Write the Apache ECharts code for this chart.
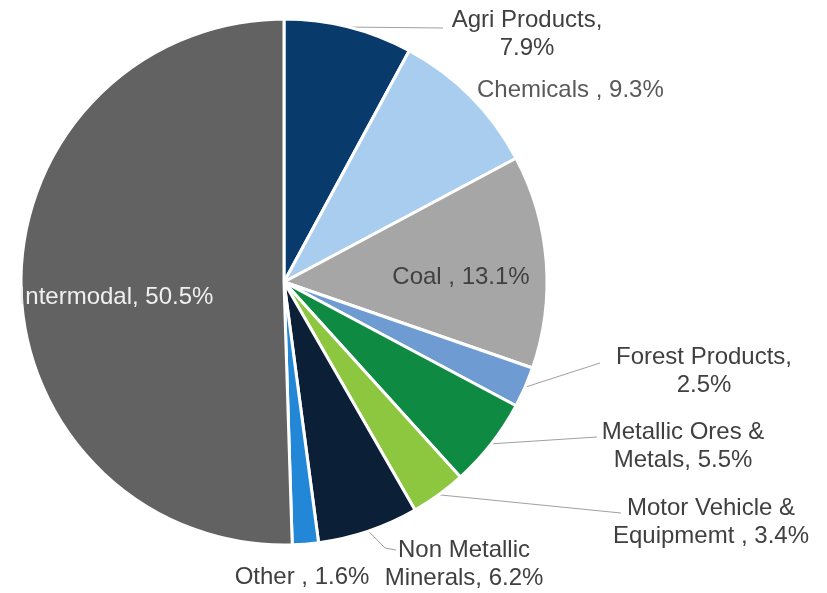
<!DOCTYPE html>
<html>
<head>
<meta charset="utf-8">
<script src="https://cdn.jsdelivr.net/npm/echarts@6/dist/echarts.min.js"></script>
<style>
  html, body { margin: 0; padding: 0; background: #ffffff; }
  #chart { width: 827px; height: 593px; }
</style>
</head>
<body>
<div id="chart"></div>
<script>
// Carload share by commodity group (%)
const categories = [
  'Agri Products', 'Chemicals', 'Coal', 'Forest Products',
  'Metallic Ores & Metals', 'Motor Vehicle & Equipmemt',
  'Non Metallic Minerals', 'Other', 'Intermodal'
];
const shares = [7.9, 9.3, 13.1, 2.5, 5.5, 3.4, 6.2, 1.6, 50.5];
const labelPrefixes = [
  'Agri Products,\n', 'Chemicals , ', 'Coal , ', 'Forest Products,\n',
  'Metallic Ores &\nMetals, ', 'Motor Vehicle &\nEquipmemt , ',
  'Non Metallic\nMinerals, ', 'Other , ', 'Intermodal, '
];
const sliceColors = [
  '#083a6c', '#a9cdef', '#a6a6a6', '#6f9bd3', '#0f8a43',
  '#8dc63f', '#0b1f36', '#2287d6', '#626262'
];

// Where each label sits (text block centre) and how its leader line bends.
const labelSpots = [
  { x: 527, y: 34, line: [[443, 28]] },
  { x: 477, y: 90, align: 'left' },
  { x: 461, y: 277, inside: true, color: '#404040' },
  { x: 704, y: 371, line: [[600, 363]] },
  { x: 683, y: 446, line: [[597, 437]] },
  { x: 711, y: 522, line: [[621, 513]] },
  { x: 464, y: 564, line: [[385, 548], [396, 550]] },
  { x: 302, y: 577 },
  { x: 116, y: 297, inside: true, color: '#f0f0f0' }
];

const chart = echarts.init(document.getElementById('chart'), null, { renderer: 'canvas' });

const seriesData = categories.map((name, i) => {
  const spot = labelSpots[i];
  return {
    name: name,
    value: shares[i],
    itemStyle: { color: sliceColors[i] },
    label: {
      position: spot.inside ? 'inside' : 'outside',
      color: spot.color || (i === 1 ? '#595959' : '#404040')
    },
    labelLine: { show: !!spot.line }
  };
});

chart.setOption({
  backgroundColor: '#ffffff',
  animation: false,
  series: [{
    type: 'pie',
    center: [284, 282],
    radius: 263,
    startAngle: 90,
    clockwise: true,
    avoidLabelOverlap: false,
    itemStyle: { borderColor: '#ffffff', borderWidth: 3 },
    label: {
      show: true,
      fontFamily: 'Liberation Sans, Arial, sans-serif',
      fontSize: 24,
      lineHeight: 28,
      align: 'center',
      formatter: p => labelPrefixes[p.dataIndex] + p.value.toFixed(1) + '%'
    },
    labelLine: {
      show: true,
      length: 20,
      length2: 20,
      smooth: false,
      lineStyle: { color: '#a0a0a0', width: 1 }
    },
    labelLayout: function (params) {
      const spot = labelSpots[params.dataIndex];
      const out = {
        x: spot.x,
        y: spot.y,
        align: spot.align || 'center',
        verticalAlign: 'middle'
      };
      if (spot.line && params.labelLinePoints) {
        const start = params.labelLinePoints[0];
        const pts = [start].concat(spot.line);
        while (pts.length < 3) pts.push(pts[pts.length - 1]);
        out.labelLinePoints = pts;
      }
      return out;
    },
    emphasis: { disabled: true },
    data: seriesData
  }]
});
</script>
</body>
</html>
